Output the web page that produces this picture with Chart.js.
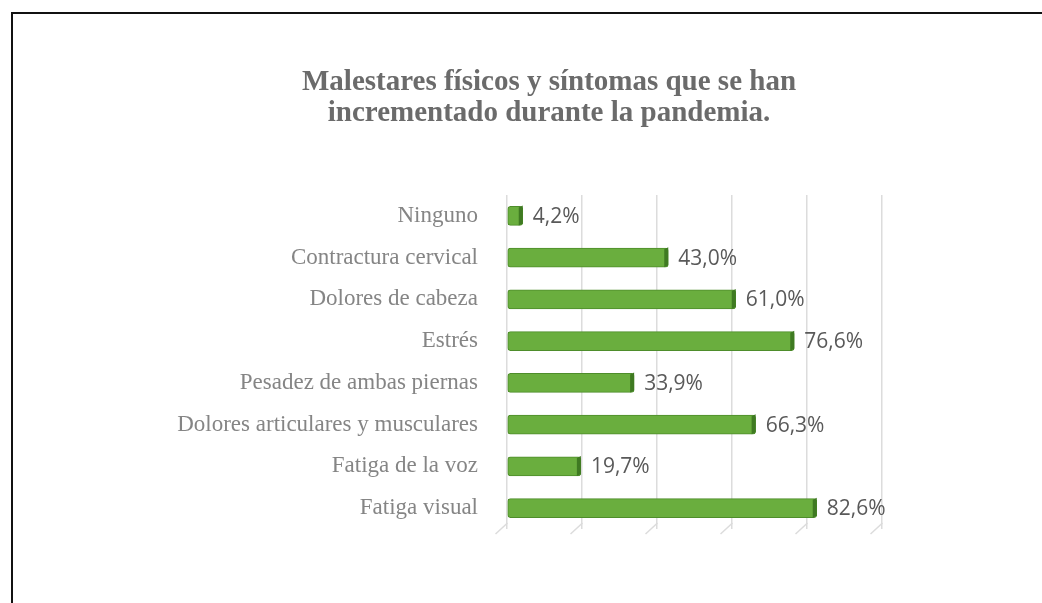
<!DOCTYPE html>
<html>
<head>
<meta charset="utf-8">
<script src="https://cdn.jsdelivr.net/npm/chart.js@4.4.1/dist/chart.umd.min.js"></script>
<style>
    html, body { margin: 0; padding: 0; background: #fff; }
    #wrap { position: relative; width: 1042px; height: 603px; overflow: hidden; }
    #frame {
        position: absolute; left: 11px; top: 12px; width: 1100px; height: 700px;
        border-left: 2px solid #111; border-top: 2px solid #111;
    }
    canvas { position: absolute; left: 0; top: 0; }
</style>
</head>
<body>
<div id="wrap">
    <div id="frame"></div>
    <canvas id="chart" width="1042" height="603"></canvas>
</div>
<script>
const categories = [
    'Ninguno',
    'Contractura cervical',
    'Dolores de cabeza',
    'Estrés',
    'Pesadez de ambas piernas',
    'Dolores articulares y musculares',
    'Fatiga de la voz',
    'Fatiga visual'
];
const values = [4.2, 43.0, 61.0, 76.6, 33.9, 66.3, 19.7, 82.6];
const xTicks = [0, 20, 40, 60, 80, 100];
const titleLines = ['Malestares físicos y síntomas que se han', 'incrementado durante la pandemia.'];

const fmt = v => v.toFixed(1).replace('.', ',') + '%';

// 3D look: dark right face on each bar + diagonal feet under the grid
const barDepth = {
    id: 'barDepth',
    beforeDatasetsDraw(chart) {
        const { ctx, chartArea, scales } = chart;
        ctx.save();
        ctx.strokeStyle = '#dcdcdc';
        ctx.lineWidth = 1.5;
        xTicks.forEach(t => {
            const x = Math.round(scales.x.getPixelForValue(t)) + 0.5;
            ctx.beginPath();
            ctx.moveTo(x, chartArea.bottom - 6);
            ctx.lineTo(x - 12, chartArea.bottom + 5);
            ctx.stroke();
        });
        ctx.restore();
    },
    afterDatasetsDraw(chart) {
        const { ctx } = chart;
        const meta = chart.getDatasetMeta(0);
        ctx.save();
        meta.data.forEach((bar, i) => {
            const h = bar.height;
            ctx.fillStyle = '#3f7a22';
            ctx.beginPath();
            ctx.moveTo(bar.x - 4, bar.y - h / 2 + 1);
            ctx.lineTo(bar.x, bar.y - h / 2 - 1);
            ctx.lineTo(bar.x, bar.y + h / 2 - 2);
            ctx.lineTo(bar.x - 4, bar.y + h / 2);
            ctx.closePath();
            ctx.fill();

            ctx.fillStyle = '#595959';
            ctx.font = '21px "Open Sans", sans-serif';
            ctx.textAlign = 'left';
            ctx.textBaseline = 'middle';
            ctx.fillText(fmt(values[i]), bar.x + 10, bar.y + 1);
        });
        ctx.restore();
    }
};

new Chart(document.getElementById('chart'), {
    type: 'bar',
    data: {
        labels: categories,
        datasets: [{
            data: values,
            backgroundColor: '#6aae3e',
            borderColor: '#4e8d2b',
            borderWidth: 1,
            borderRadius: 3,
            borderSkipped: false,
            barThickness: 19
        }]
    },
    options: {
        indexAxis: 'y',
        responsive: false,
        animation: false,
        layout: { padding: { left: 150, right: 94, top: 50, bottom: 74 } },
        plugins: {
            legend: { display: false },
            tooltip: { enabled: false },
            title: {
                display: true,
                text: titleLines,
                color: '#6b6b6b',
                font: { family: '"Liberation Serif", serif', size: 29, weight: 'bold', lineHeight: 1.07 },
                padding: { top: 17, bottom: 66 }
            }
        },
        scales: {
            x: {
                min: 0,
                max: 100,
                afterBuildTicks: scale => { scale.ticks = xTicks.map(v => ({ value: v })); },
                ticks: { display: false },
                grid: { color: '#dcdcdc', lineWidth: 1.5, drawTicks: false },
                border: { display: false }
            },
            y: {
                afterFit: scale => { scale.width = 357; },
                ticks: {
                    color: '#858585',
                    padding: 29,
                    font: { family: '"Liberation Serif", serif', size: 23 }
                },
                grid: { display: false, drawTicks: false },
                border: { display: false }
            },
            // empty right-hand axis: only keeps room so the title centres like the original
            spacer: {
                type: 'category',
                position: 'right',
                afterFit: scale => { scale.width = 66; },
                ticks: { display: false },
                grid: { display: false, drawTicks: false },
                border: { display: false }
            }
        }
    },
    plugins: [barDepth]
});
</script>
</body>
</html>
